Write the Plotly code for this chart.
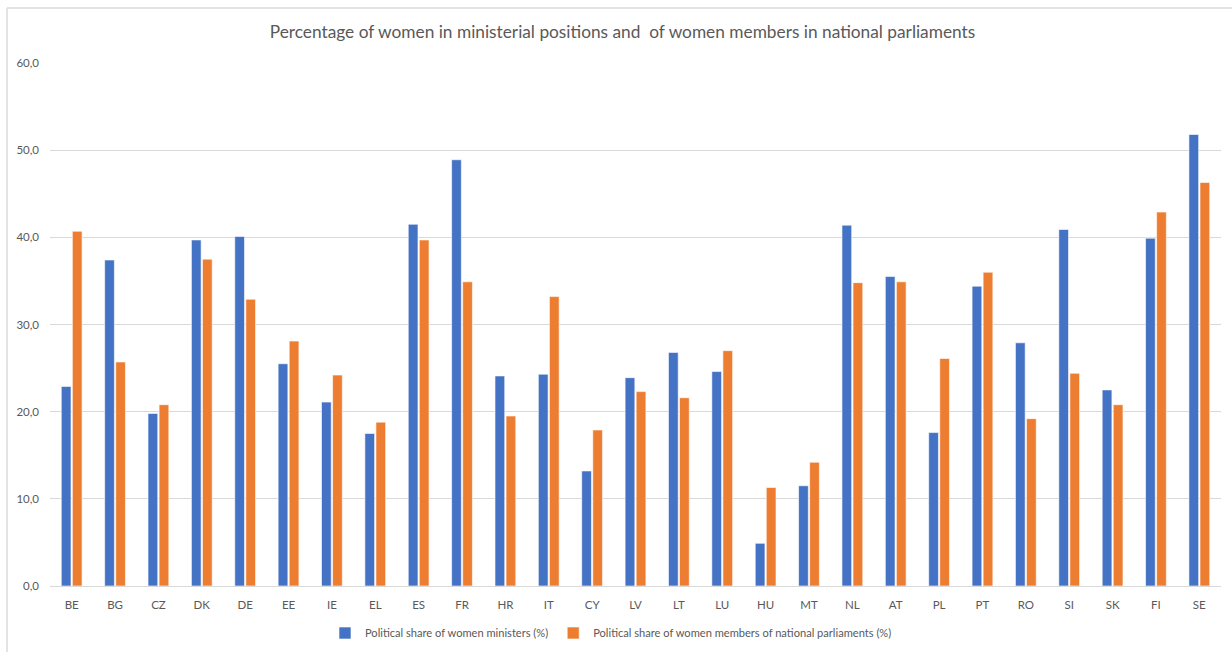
import plotly.graph_objects as go

countries = ["BE", "BG", "CZ", "DK", "DE", "EE", "IE", "EL", "ES", "FR", "HR", "IT", "CY", "LV",
             "LT", "LU", "HU", "MT", "NL", "AT", "PL", "PT", "RO", "SI", "SK", "FI", "SE"]
ministers = [22.9, 37.4, 19.8, 39.7, 40.1, 25.5, 21.1, 17.5, 41.5, 48.9, 24.1, 24.3, 13.2, 23.9,
             26.8, 24.6, 4.9, 11.5, 41.4, 35.5, 17.6, 34.4, 27.9, 40.9, 22.5, 39.9, 51.8]
parliaments = [40.7, 25.7, 20.8, 37.5, 32.9, 28.1, 24.2, 18.8, 39.7, 34.9, 19.5, 33.2, 17.9, 22.3,
               21.6, 27.0, 11.3, 14.2, 34.8, 34.9, 26.1, 36.0, 19.2, 24.4, 20.8, 42.9, 46.3]

W, H = 1232, 652
ML, MR, MT, MB = 50, 11, 63, 66
PW, PH = W - ML - MR, H - MT - MB

TEXT = "#595959"
GRID = "#d9d9d9"
FONT = "Lato"

fig = go.Figure()
fig.add_trace(go.Bar(x=countries, y=ministers, name="Political share of women ministers (%)",
                     marker=dict(color="#4472C4", line=dict(color="white", width=0.6))))
fig.add_trace(go.Bar(x=countries, y=parliaments,
                     name="Political share of women members of national parliaments (%)",
                     marker=dict(color="#ED7D31", line=dict(color="white", width=0.6))))

# light frame along the top and left edges
def px_x(v):
    return (v - ML) / PW

def px_y(v):
    return (H - MB - v) / PH

fig.add_shape(type="line", xref="paper", yref="paper",
              x0=px_x(7), x1=px_x(W + 5), y0=px_y(8), y1=px_y(8),
              line=dict(color="#e3e3e3", width=2))
fig.add_shape(type="line", xref="paper", yref="paper",
              x0=px_x(7), x1=px_x(7), y0=px_y(8), y1=px_y(H + 5),
              line=dict(color="#e3e3e3", width=2))

fig.update_layout(
    width=W, height=H,
    margin=dict(l=ML, r=MR, t=MT, b=MB, autoexpand=False),
    paper_bgcolor="white", plot_bgcolor="white",
    separators=",.",
    barmode="group", bargap=0.49, bargroupgap=0.12,
    font=dict(family=FONT, color=TEXT, size=11),
    title=dict(text="Percentage of women in ministerial positions and  of women members in national parliaments",
               x=622.5 / W, xanchor="center", y=1 - 32 / H, yanchor="middle",
               font=dict(family=FONT, size=17.3, color=TEXT)),
    legend=dict(orientation="h", x=px_x(611), xanchor="center",
                yref="container", y=1 - 633 / H, yanchor="middle",
                font=dict(family=FONT, size=11.1, color=TEXT), traceorder="normal"),
    showlegend=True,
)
fig.update_xaxes(showgrid=False, showline=True, linecolor=GRID, linewidth=1,
                 ticks="", ticklabelstandoff=8, automargin=False,
                 tickfont=dict(family=FONT, size=11.5, color=TEXT))
fig.update_yaxes(range=[0, 60], dtick=10, tickformat=".1f", showgrid=True, gridcolor=GRID,
                 gridwidth=1, zeroline=False, showline=False, ticks="",
                 ticklabelstandoff=10, automargin=False,
                 tickfont=dict(family=FONT, size=11.5, color=TEXT))

fig.write_html("out.html")
